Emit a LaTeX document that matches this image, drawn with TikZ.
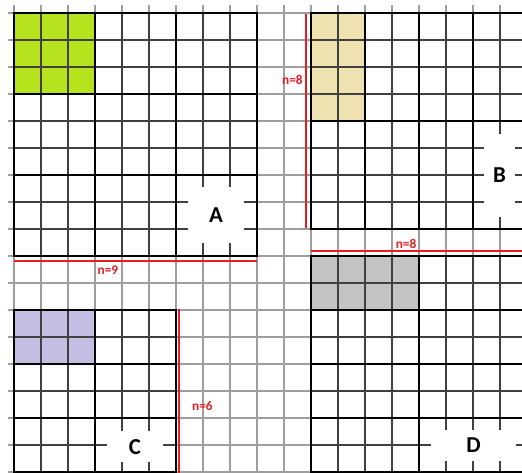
\documentclass[tikz,border=0pt]{standalone}
\usepackage{fontspec}
\setmainfont{Carlito}
\definecolor{verde}{RGB}{182,226,30}
\definecolor{beige}{RGB}{238,226,176}
\definecolor{lila}{RGB}{196,190,226}
\definecolor{gris}{RGB}{195,195,195}
\definecolor{rojo}{RGB}{232,28,36}

\begin{document}
\begin{tikzpicture}[x=0.5cm, y=-0.5cm,
	fino/.style={black!38, line width=0.55pt, step=0.5cm},
	interior/.style={black!75, line width=0.6pt, step=0.5cm},
	grueso/.style={black, line width=1.2pt, line cap=rect},
	medida/.style={rojo, line width=0.8pt},
	etiqueta/.style={text=rojo, font=\bfseries\fontsize{7}{8}\selectfont, inner sep=0pt},
	letra/.style={fill=white, font=\bfseries\fontsize{12}{14}\selectfont, inner sep=0pt}]

		% Marco de la figura
		\useasboundingbox (-0.519,-0.481) rectangle (18.815,17.037);
		\clip (-0.519,-0.481) rectangle (18.815,17.037);

		% Celdas coloreadas
		\fill[verde] (0,0) rectangle (3,3);
		\fill[beige] (11,0) rectangle (13,4);
		\fill[lila] (0,11) rectangle (3,13);
		\fill[gris] (11,9) rectangle (15,11);

		% Cuadrícula de fondo
		\draw[fino] (-0.22,18) grid (19,-0.3);

		% Cuadrículas interiores de los tableros
		\draw[interior] (0,9) grid (9,0);
		\draw[interior] (11,8) grid (19,0);
		\draw[interior] (0,17) grid (6,11);
		\draw[interior] (11,17) grid (19,9);

		% Letras de los tableros
		\node[letra, minimum width=1.037cm, minimum height=1.037cm] (A) at (7.48,7.48) {A};
		\node[letra, minimum width=0.574cm, minimum height=1.537cm] (B) at (17.98,6.02) {B};
		\node[letra, minimum width=1.037cm, minimum height=0.574cm] (C) at (4.48,16.06) {C};
		\node[letra, minimum width=1.574cm, minimum height=0.574cm] (D) at (17.02,16.02) {D};

		% Tablero A (bloques 3x3)
		\foreach \k in {0,3,6,9} {
			\draw[grueso] (\k,0) -- (\k,9);
			\draw[grueso] (0,\k) -- (9,\k);
		}

		% Tablero B (bloques 2x4)
		\foreach \k in {11,13,15,17,19}
			\draw[grueso] (\k,0) -- (\k,8);
		\foreach \k in {0,4,8}
			\draw[grueso] (11,\k) -- (19,\k);

		% Tablero C (bloques 3x2)
		\foreach \k in {0,3,6}
			\draw[grueso] (\k,11) -- (\k,17);
		\foreach \k in {11,13,15,17}
			\draw[grueso] (0,\k) -- (6,\k);

		% Tablero D (bloques 4x2)
		\foreach \k in {11,15,19}
			\draw[grueso] (\k,9) -- (\k,17);
		\foreach \k in {9,11,13,15,17}
			\draw[grueso] (11,\k) -- (19,\k);

		% Medidas en rojo
		\coordinate (n9a) at (0,9.185);
		\coordinate (n9b) at (9,9.185);
		\draw[medida] (n9a) -- (n9b);
		\node[etiqueta] (n9) at (3.48,9.52) {n=9};

		\coordinate (n8a) at (10.815,0.04);
		\coordinate (n8b) at (10.815,7.96);
		\draw[medida] (n8a) -- (n8b);
		\node[etiqueta] (n8) at (10.31,2.48) {n=8};

		\coordinate (m8a) at (11,8.815);
		\coordinate (m8b) at (19,8.815);
		\draw[medida] (m8a) -- (m8b);
		\node[etiqueta] (m8) at (14.52,8.56) {n=8};

		\coordinate (n6a) at (6.11,10.96);
		\coordinate (n6b) at (6.11,17.2);
		\draw[medida] (n6a) -- (n6b);
		\node[etiqueta] (n6) at (6.98,14.56) {n=6};
	\end{tikzpicture}
\end{document}
